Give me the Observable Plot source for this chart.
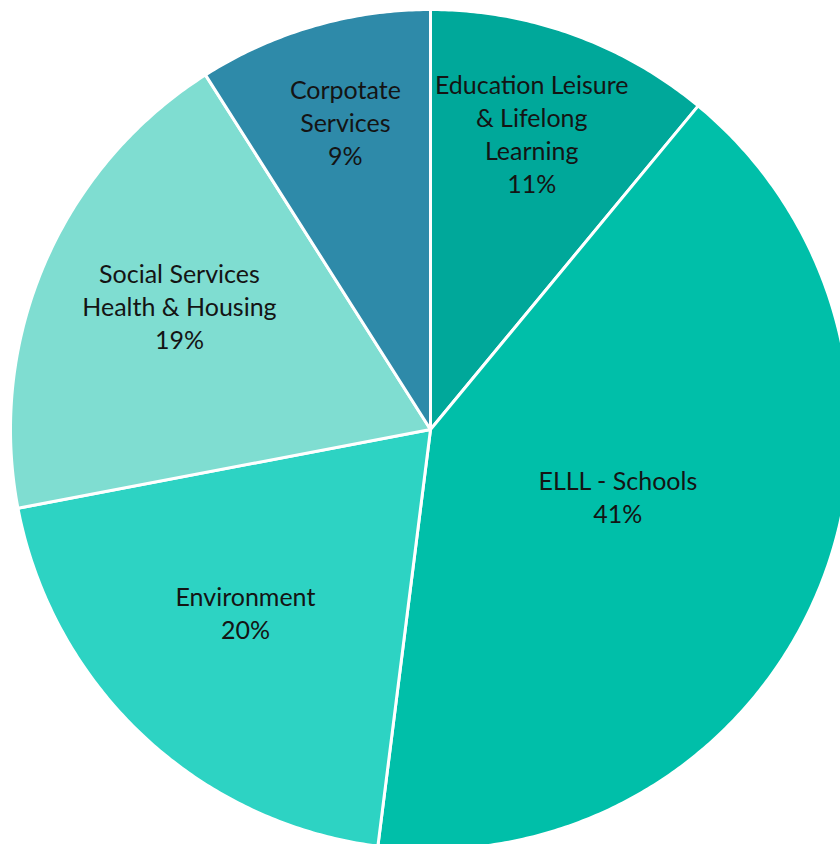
<!DOCTYPE html>
<html>
<head>
<meta charset="utf-8">
<script src="https://cdn.jsdelivr.net/npm/d3@7"></script>
<script src="https://cdn.jsdelivr.net/npm/@observablehq/plot@0.6"></script>
<style>
  html, body { margin: 0; padding: 0; background: #fff; overflow: hidden; }
  #chart svg { display: block; }
</style>
</head>
<body>
<div id="chart"></div>
<script>
// Data (clockwise from 12 o'clock)
const categories = [
  "Education Leisure\n& Lifelong\nLearning",
  "ELLL - Schools",
  "Environment",
  "Social Services\nHealth & Housing",
  "Corpotate\nServices"
];
const shares = [11, 41, 20, 19, 9];
const colors = ["#00A89A", "#00BFA9", "#2DD3C3", "#7FDDD1", "#2E8AA9"];

// Layout
const W = 840, H = 844;
const R = 420, CX = 430, CY = 429;

const total = d3.sum(shares);
const slices = [];
let acc = 0;
categories.forEach((name, i) => {
  const a0 = acc / total * 2 * Math.PI;
  acc += shares[i];
  const a1 = acc / total * 2 * Math.PI;
  slices.push({name, share: shares[i], color: colors[i], a0, a1});
});

// Polygon vertices for each slice (unit circle, angle clockwise from top)
const verts = [];
slices.forEach((s, i) => {
  verts.push({i, x: 0, y: 0, color: s.color});
  const n = Math.max(2, Math.ceil((s.a1 - s.a0) / (Math.PI / 360)));
  for (let k = 0; k <= n; k++) {
    const a = s.a0 + (s.a1 - s.a0) * k / n;
    verts.push({i, x: Math.sin(a), y: Math.cos(a), color: s.color});
  }
});

// Label anchors: smaller slices get labels closer to the rim
const labels = slices.map(s => {
  const p = s.share / total;
  const r = 0.794 - 0.751 * p;
  const m = (s.a0 + s.a1) / 2;
  return {x: r * Math.sin(m), y: r * Math.cos(m), text: s.name + "\n" + s.share + "%"};
});

const chart = Plot.plot({
  width: W,
  height: H,
  margin: 0,
  x: {domain: [-CX / R, (W - CX) / R], range: [0, W], axis: null},
  y: {domain: [-(H - CY) / R, CY / R], range: [H, 0], axis: null},
  color: {type: "identity"},
  style: {background: "#fff"},
  marks: [
    Plot.line(verts, {
      x: "x", y: "y", z: "i",
      fill: "color",
      stroke: "#fff",
      strokeWidth: 3,
      strokeLinejoin: "round",
      curve: "linear-closed"
    }),
    Plot.text(labels, {
      x: "x", y: "y", text: "text",
      dy: -15,
      fontFamily: "Lato, 'Open Sans', sans-serif",
      fontSize: 25,
      lineHeight: 1.32,
      fill: "#141414",
      textAnchor: "middle"
    })
  ]
});
document.getElementById("chart").appendChild(chart);
</script>
</body>
</html>
